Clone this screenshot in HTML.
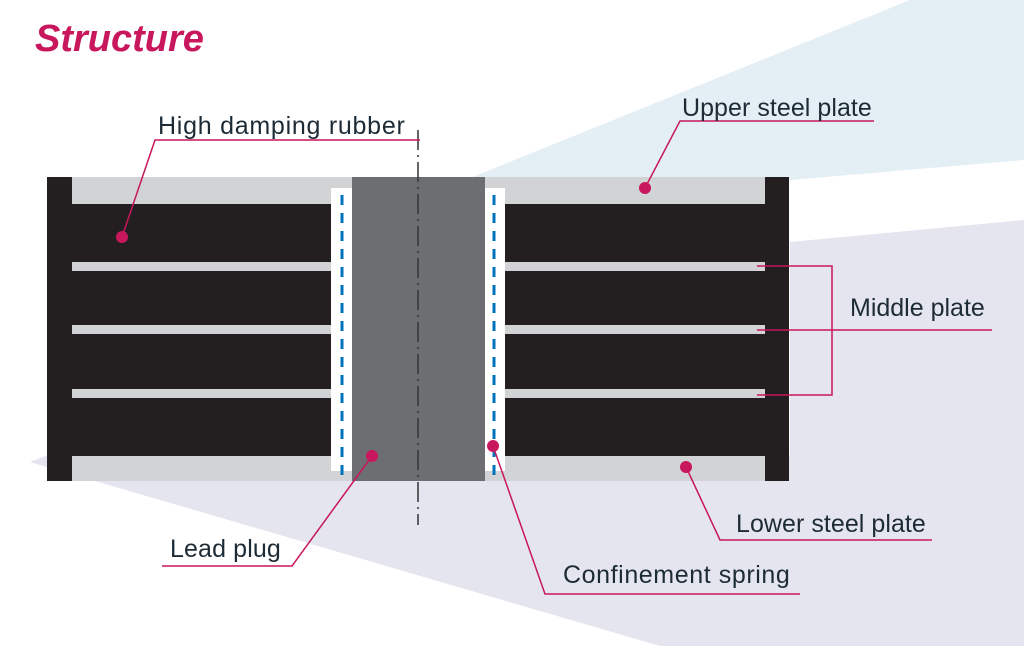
<!DOCTYPE html>
<html><head><meta charset="utf-8"><style>
body{margin:0;width:1024px;height:646px;overflow:hidden;background:#fff}
svg text{font-family:"Liberation Sans",sans-serif;fill:#1d2b36}
</style></head><body>
<svg width="1024" height="646" viewBox="0 0 1024 646">
<polygon points="470,178 910,0 1024,0 1024,160 790,180" fill="#e4eef5"/>
<polygon points="790,242 1024,220 1024,646 660,646 30,462 48,455 790,455" fill="#e4e5ee"/>
<text x="35" y="51" style="font-weight:bold;font-style:italic;font-size:38px;fill:#c8175d">Structure</text>
<rect x="47" y="177" width="742" height="304" fill="#231f20"/>
<rect x="72" y="177" width="693" height="27" fill="#d1d3d4"/>
<rect x="72" y="456" width="693" height="25" fill="#d1d3d4"/>
<rect x="72" y="262" width="693" height="9" fill="#d1d3d4"/>
<rect x="72" y="325" width="693" height="9" fill="#d1d3d4"/>
<rect x="72" y="389" width="693" height="9" fill="#d1d3d4"/>
<rect x="331" y="188" width="21" height="283" fill="#fff"/>
<rect x="485" y="188" width="20" height="283" fill="#fff"/>
<rect x="352" y="177" width="133" height="304" fill="#6d6e71"/>
<line x1="342" y1="195" x2="342" y2="475" stroke="#0072bc" stroke-width="3" stroke-dasharray="10,8"/>
<line x1="494" y1="195" x2="494" y2="475" stroke="#0072bc" stroke-width="3" stroke-dasharray="10,8"/>
<line x1="418" y1="130" x2="418" y2="525" stroke="#333" stroke-width="1.5" stroke-dasharray="20,5,2,5"/>
<g stroke="#c8175d" stroke-width="1.5" fill="none">
<polyline points="420,140 155,140 122,237"/>
<polyline points="874,121 680,121 645,188"/>
<polyline points="757,266 832,266 832,395 757,395"/>
<line x1="757" y1="330" x2="992" y2="330"/>
<polyline points="932,540 720,540 686,467"/>
<polyline points="800,594 545,594 493,446"/>
<polyline points="162,566 292,566 372,456"/>
</g>
<g fill="#c8175d">
<circle cx="122" cy="237" r="6"/><circle cx="645" cy="188" r="6"/>
<circle cx="686" cy="467" r="6"/><circle cx="493" cy="446" r="6"/><circle cx="372" cy="456" r="6"/>
</g>
<g font-size="25" letter-spacing="0.2">
<text x="158" y="134" textLength="247">High damping rubber</text>
<text x="682" y="116" textLength="190">Upper steel plate</text>
<text x="850" y="316" textLength="135">Middle plate</text>
<text x="736" y="532" textLength="190">Lower steel plate</text>
<text x="563" y="583" textLength="227">Confinement spring</text>
<text x="170" y="557" textLength="111">Lead plug</text>
</g>
</svg>
</body></html>
